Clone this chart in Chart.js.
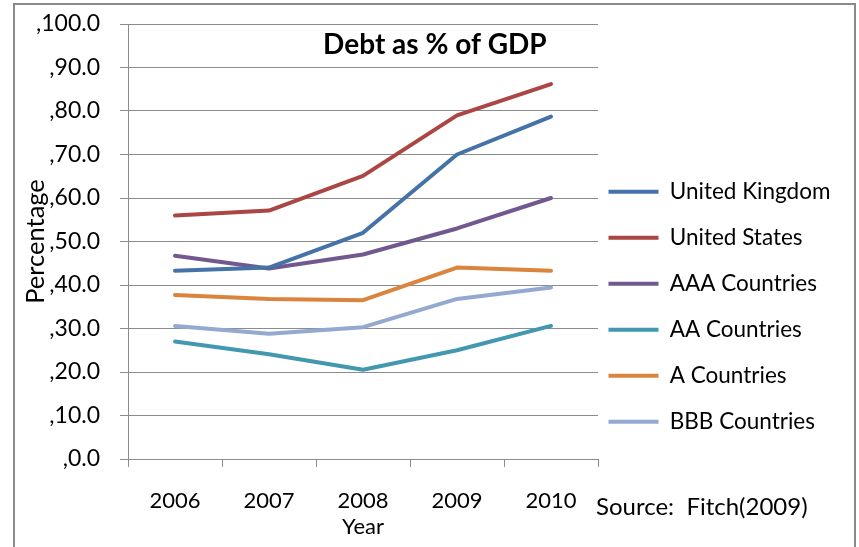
<!DOCTYPE html>
<html lang="en">
  <head>
    <meta charset="UTF-8" />
    <title>Debt as % of GDP</title>
    <style>
      * {
        margin: 0;
        padding: 0;
        box-sizing: border-box;
      }
      body {
        width: 859px;
        height: 547px;
        overflow: hidden;
        background: #fff;
        position: relative;
      }
      #frame {
        position: absolute;
        left: 13px;
        top: 3px;
        width: 843px;
        height: 600px;
        border: 2px solid #8a8a8a;
        pointer-events: none;
      }
      canvas {
        position: absolute;
        left: 0;
        top: 0;
      }
    </style>
  </head>
  <body>
    <canvas id="chart" width="859" height="547"></canvas>
    <div id="frame"></div>

    <script src="https://cdn.jsdelivr.net/npm/chart.js"></script>
    <script>
      const years = ["2006", "2007", "2008", "2009", "2010"];
      const seriesNames = [
        "United Kingdom",
        "United States",
        "AAA Countries",
        "AA Countries",
        "A Countries",
        "BBB Countries",
      ];
      const ukDebt = [43.3, 44.0, 52.0, 70.0, 78.7];
      const usDebt = [56.0, 57.1, 65.1, 79.0, 86.2];
      const aaaDebt = [46.7, 43.8, 47.0, 53.0, 60.0];
      const aaDebt = [27.0, 24.1, 20.5, 25.0, 30.6];
      const aDebt = [37.7, 36.8, 36.5, 44.0, 43.3];
      const bbbDebt = [30.6, 28.8, 30.3, 36.8, 39.4];
      const colors = ["#4572a7", "#aa4643", "#71588f", "#4198af", "#db843d", "#93a9cf"];

      const yMin = 0;
      const yMax = 100;
      const yStep = 10;

      const chartTitle = "Debt as % of GDP";
      const sourceNote = "Source:  Fitch(2009)";

      const font = "Lato";
      const gridColor = "#8c8c8c";

      const allSeries = [ukDebt, usDebt, aaaDebt, aaDebt, aDebt, bbbDebt];

      // legend sits right of the plot but lower than centre, like the original
      const legendPlace = {
        id: "legendPlace",
        afterInit(chart) {
          const lg = chart.legend;
          const fit = lg.fit;
          lg.fit = function () {
            fit.call(this);
            this.width = 261;
          };
        },
        afterLayout(chart) {
          const lg = chart.legend;
          const area = chart.chartArea;
          lg.left = area.right - 13;
          lg.right = 859;
          lg.top = area.top + 133;
          lg.bottom = 547;
        },
      };

      const extraText = {
        id: "extraText",
        afterDraw(chart) {
          const { ctx, chartArea } = chart;
          ctx.save();
          ctx.fillStyle = "#000";
          ctx.textBaseline = "middle";
          ctx.textAlign = "center";
          ctx.font = "bold 28px " + font;
          ctx.fillText(chartTitle, chartArea.left + chartArea.width * 0.653, chartArea.top + 21);
          ctx.textAlign = "left";
          ctx.font = "24px " + font;
          ctx.fillText(sourceNote, chartArea.right - 2, chartArea.bottom + 48);
          ctx.restore();
        },
      };

      const ctx = document.getElementById("chart").getContext("2d");

      new Chart(ctx, {
        type: "line",
        data: {
          labels: years,
          datasets: allSeries.map((vals, i) => ({
            label: seriesNames[i],
            data: vals,
            borderColor: colors[i],
            backgroundColor: colors[i],
            borderWidth: 4,
            borderCapStyle: "round",
            borderJoinStyle: "round",
            pointRadius: 0,
            pointHoverRadius: 0,
            pointStyle: "line",
            tension: 0,
            fill: false,
          })),
        },
        options: {
          responsive: false,
          animation: false,
          layout: {
            padding: { left: 14, top: 24, right: 0, bottom: 0 },
          },
          plugins: {
            title: { display: false },
            tooltip: { enabled: false },
            legend: {
              position: "right",
              align: "start",
              labels: {
                usePointStyle: true,
                pointStyleWidth: 50,
                padding: 23.5,
                color: "#000",
                font: { family: font, size: 22.5 },
              },
            },
          },
          scales: {
            x: {
              offset: true,
              afterFit(scale) {
                scale.height = 88;
                scale.paddingLeft = 0;
                scale.paddingRight = 0;
              },
              grid: {
                offset: true,
                drawOnChartArea: false,
                drawTicks: true,
                tickLength: 8,
                color: gridColor,
              },
              border: { display: true, color: gridColor },
              ticks: {
                color: "#000",
                padding: 21,
                font: { family: font, size: 22 },
              },
              title: {
                display: true,
                text: "Year",
                color: "#000",
                padding: { top: 0, bottom: 7 },
                font: { family: font, size: 22 },
              },
            },
            y: {
              min: yMin,
              max: yMax,
              afterFit(scale) {
                scale.width = 114;
                scale.paddingTop = 0;
                scale.paddingBottom = 0;
              },
              grid: {
                color: gridColor,
                tickLength: 8,
              },
              border: { display: true, color: gridColor },
              ticks: {
                stepSize: yStep,
                color: "#000",
                padding: 20,
                font: { family: font, size: 23 },
                callback: (v) => "," + Number(v).toFixed(1),
              },
              title: {
                display: true,
                text: "Percentage",
                color: "#000",
                padding: { top: 6, bottom: 0 },
                font: { family: font, size: 25.5 },
              },
            },
          },
        },
        plugins: [legendPlace, extraText],
      });
    </script>
  </body>
</html>
